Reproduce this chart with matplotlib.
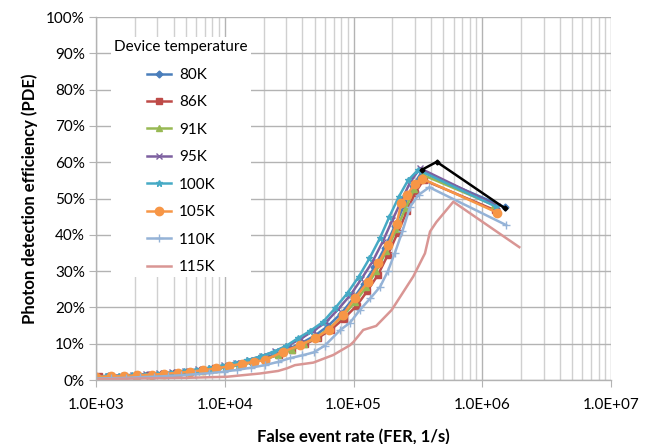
import matplotlib
matplotlib.use("Agg")
import matplotlib.pyplot as plt
from matplotlib.ticker import LogLocator, FixedLocator, FuncFormatter, NullFormatter

plt.rcParams['font.family'] = ['Lato', 'DejaVu Sans']

# Photon detection efficiency (%) versus false event rate (1/s) per device temperature
fer_80 = [1.0e3, 1.25e3, 1.6e3, 2.0e3, 2.5e3, 3.2e3, 4.0e3, 5.0e3, 6.3e3, 8.0e3, 1.0e4, 1.26e4, 1.6e4, 2.0e4,
          2.5e4, 3.2e4, 4.0e4, 5.0e4, 6.3e4, 8.0e4, 1.0e5, 1.2e5, 1.45e5, 1.75e5, 2.1e5, 2.5e5, 2.9e5, 3.4e5, 1.5e6]
pde_80 = [0.9, 1.0, 1.1, 1.3, 1.4, 1.6, 1.9, 2.2, 2.6, 3.1, 3.6, 4.3, 5.1, 6.0,
          7.2, 8.7, 10.3, 12.2, 14.8, 18.3, 22.5, 26.5, 31.0, 36.5, 42.5, 48.5, 53.5, 57.4, 47.6]

fer_86 = [1.05e3, 1.3e3, 1.65e3, 2.1e3, 2.6e3, 3.3e3, 4.2e3, 5.3e3, 6.6e3, 8.4e3, 1.05e4, 1.32e4, 1.68e4, 2.1e4,
          2.65e4, 3.35e4, 4.2e4, 5.3e4, 6.7e4, 8.4e4, 1.06e5, 1.28e5, 1.55e5, 1.85e5, 2.2e5, 2.6e5, 3.0e5, 3.5e5, 1.25e6]
pde_86 = [1.0, 1.1, 1.2, 1.4, 1.5, 1.7, 2.0, 2.3, 2.7, 3.2, 3.6, 4.3, 5.0, 5.9,
          7.0, 8.4, 9.9, 11.6, 13.9, 16.9, 20.5, 24.5, 29.0, 34.5, 40.5, 46.5, 51.5, 55.1, 46.8]

fer_91 = [1.0e3, 1.3e3, 1.6e3, 2.05e3, 2.6e3, 3.3e3, 4.1e3, 5.2e3, 6.5e3, 8.2e3, 1.03e4, 1.3e4, 1.65e4, 2.05e4,
          2.6e4, 3.3e4, 4.1e4, 5.2e4, 6.5e4, 8.2e4, 1.03e5, 1.25e5, 1.5e5, 1.8e5, 2.15e5, 2.55e5, 2.95e5, 3.45e5, 1.23e6]
pde_91 = [0.8, 0.9, 1.0, 1.2, 1.3, 1.5, 1.8, 2.1, 2.5, 3.0, 3.5, 4.1, 4.9, 5.8,
          6.9, 8.3, 9.9, 11.8, 14.3, 17.5, 21.5, 25.5, 30.0, 35.5, 41.5, 47.5, 52.5, 56.5, 48.2]

fer_95 = [1.0e3, 1.25e3, 1.55e3, 1.95e3, 2.45e3, 3.1e3, 3.9e3, 4.9e3, 6.2e3, 7.8e3, 9.8e3, 1.23e4, 1.55e4, 1.95e4,
          2.45e4, 3.1e4, 3.9e4, 4.9e4, 6.1e4, 7.6e4, 9.5e4, 1.15e5, 1.4e5, 1.68e5, 2.0e5, 2.4e5, 2.8e5, 3.3e5, 1.3e6]
pde_95 = [1.0, 1.1, 1.2, 1.4, 1.6, 1.8, 2.1, 2.5, 2.9, 3.4, 4.0, 4.7, 5.6, 6.6,
          7.9, 9.5, 11.4, 13.6, 15.9, 19.5, 23.5, 27.8, 32.5, 38.0, 44.0, 50.0, 55.0, 58.3, 48.0]

fer_100 = [1.0e3, 1.2e3, 1.5e3, 1.9e3, 2.4e3, 3.0e3, 3.8e3, 4.8e3, 6.0e3, 7.5e3, 9.5e3, 1.2e4, 1.5e4, 1.9e4,
           2.4e4, 3.0e4, 3.7e4, 4.6e4, 5.8e4, 7.2e4, 9.0e4, 1.1e5, 1.33e5, 1.6e5, 1.9e5, 2.25e5, 2.65e5, 3.18e5, 1.29e6]
pde_100 = [0.9, 1.0, 1.1, 1.3, 1.5, 1.7, 2.0, 2.4, 2.8, 3.3, 3.9, 4.6, 5.5, 6.5,
           7.8, 9.4, 11.5, 13.5, 16.0, 19.8, 24.0, 28.5, 33.5, 39.0, 45.0, 50.5, 55.0, 57.9, 47.7]

fer_105 = [1.0e3, 1.3e3, 1.65e3, 2.1e3, 2.7e3, 3.4e3, 4.3e3, 5.4e3, 6.8e3, 8.6e3, 1.08e4, 1.35e4, 1.7e4, 2.05e4,
           2.85e4, 3.84e4, 5.0e4, 6.4e4, 8.3e4, 1.02e5, 1.3e5, 1.56e5, 1.86e5, 2.16e5, 2.35e5, 2.6e5, 3.0e5, 3.4e5, 1.31e6]
pde_105 = [0.9, 1.0, 1.1, 1.3, 1.5, 1.7, 2.0, 2.3, 2.7, 3.2, 3.8, 4.5, 5.0, 5.5,
           7.8, 9.6, 11.5, 13.8, 18.0, 22.5, 27.1, 32.1, 37.2, 43.0, 48.7, 51.0, 54.0, 55.5, 46.1]

fer_110 = [1.0e3, 1.3e3, 1.7e3, 2.2e3, 2.8e3, 3.6e3, 4.6e3, 5.9e3, 7.6e3, 9.8e3, 1.25e4, 1.6e4, 2.05e4, 2.6e4,
           3.2e4, 4.0e4, 4.9e4, 6.0e4, 7.9e4, 9.4e4, 1.12e5, 1.35e5, 1.61e5, 1.85e5, 2.09e5, 2.4e5, 2.75e5, 3.2e5,
           3.88e5, 1.53e6]
pde_110 = [0.4, 0.5, 0.6, 0.8, 0.9, 1.1, 1.3, 1.6, 1.9, 2.3, 2.8, 3.4, 4.1, 5.0,
           6.0, 6.8, 7.6, 9.5, 13.8, 15.8, 19.3, 22.5, 25.7, 30.0, 34.9, 41.0, 47.7, 51.0,
           53.1, 42.7]

fer_115 = [1.0e3, 2.0e3, 5.0e3, 1.04e4, 1.88e4, 2.6e4, 3.03e4, 3.51e4, 4.88e4, 6.97e4, 9.4e4, 1.0e5, 1.19e5,
           1.5e5, 1.98e5, 2.91e5, 3.59e5, 3.93e5, 4.4e5, 5.96e5, 1.94e6]
pde_115 = [0.2, 0.4, 0.6, 0.9, 1.8, 2.5, 3.2, 4.1, 4.8, 6.9, 9.6, 10.5, 13.8,
           14.9, 19.3, 28.5, 34.9, 40.9, 43.5, 49.1, 36.6]

# Line joining the best operating points
fer_best = [3.39e5, 4.43e5, 1.5e6]
pde_best = [57.9, 60.1, 47.3]

temperatures = ["80K", "86K", "91K", "95K", "100K", "105K", "110K", "115K"]
fer_sets = [fer_80, fer_86, fer_91, fer_95, fer_100, fer_105, fer_110, fer_115]
pde_sets = [pde_80, pde_86, pde_91, pde_95, pde_100, pde_105, pde_110, pde_115]

colors = ["#4A7EBB", "#BE4B48", "#98B954", "#7D60A0", "#46AAC5", "#F79646", "#95B3D7", "#D99694"]
markers = ["D", "s", "^", "x", "*", "o", "+", None]
msizes = [3.5, 4, 4.5, 5, 5, 6, 6, 0]

fig = plt.figure(figsize=(6.5, 4.44), dpi=100)
ax = fig.add_axes([0.1477, 0.1441, 0.7923, 0.8176])

for lab, fx, py, c, m, ms in zip(temperatures, fer_sets, pde_sets, colors, markers, msizes):
    ax.plot(fx, py, color=c, lw=1.8, marker=m, ms=ms, mew=1.0, mfc=c, mec=c, label=lab)

ax.plot(fer_best, pde_best, color="black", lw=1.8, marker="D", ms=2.5)

ax.set_xscale("log")
ax.set_xlim(1e3, 1e7)
ax.set_ylim(0, 100)

grid_c = "#B3B3B3"
ax.xaxis.set_major_locator(LogLocator(base=10, numticks=10))
ax.xaxis.set_minor_locator(LogLocator(base=10, subs=range(2, 10), numticks=50))
ax.xaxis.set_minor_formatter(NullFormatter())
ax.xaxis.set_major_formatter(FuncFormatter(lambda v, p: "{:.1E}".format(v)))
ax.yaxis.set_major_locator(FixedLocator(range(0, 101, 10)))
ax.yaxis.set_major_formatter(FuncFormatter(lambda v, p: "{:d}%".format(int(round(v)))))

ax.grid(True, which="major", color=grid_c, lw=1.0)
ax.grid(True, which="minor", axis="x", color="#D0D0D0", lw=1.0)
ax.set_axisbelow(True)
for s in ax.spines.values():
    s.set_color(grid_c)
    s.set_linewidth(1.0)
ax.spines["top"].set_visible(False)
ax.spines["right"].set_visible(False)

ax.tick_params(axis="both", which="major", length=5, color=grid_c, labelsize=11, pad=3)
ax.tick_params(axis="x", which="minor", length=0)
ax.tick_params(axis="x", pad=8)

ax.set_xlabel("False event rate (FER, 1/s)", fontsize=12, fontweight="bold", labelpad=12)
ax.set_ylabel("Photon detection efficiency (PDE)", fontsize=12, fontweight="bold", labelpad=6)

leg = ax.legend(loc="upper left", bbox_to_anchor=(0.015, 0.965), title="Device temperature",
                fontsize=11, title_fontsize=11, frameon=True, fancybox=False, framealpha=1.0,
                edgecolor="white", labelspacing=0.88, handlelength=1.6, handletextpad=0.5,
                borderpad=0.2)
leg.get_frame().set_linewidth(0)

fig.savefig("out.png", dpi=100)
